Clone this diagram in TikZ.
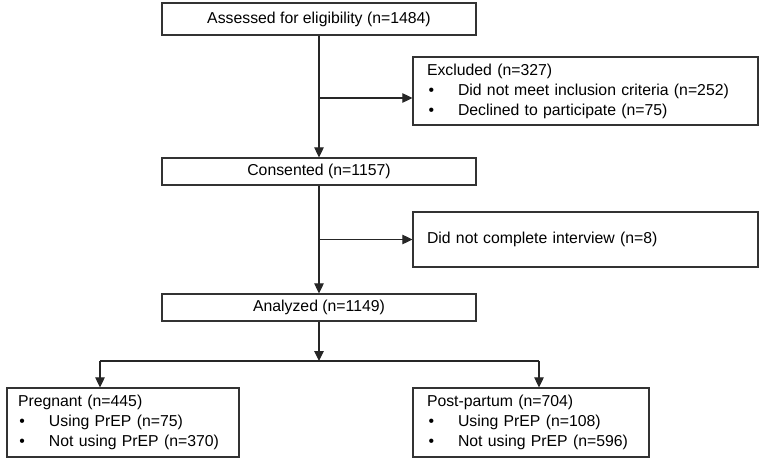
\documentclass[tikz,border=0pt]{standalone}
\usepackage{fontspec}
\setmainfont{Liberation Sans}
\usetikzlibrary{arrows.meta}
\newcommand{\bul}{\makebox[31pt][l]{\hspace{1.5pt}\textbullet}}

\begin{document}
\begin{tikzpicture}[x=1pt,y=-1pt,
    box/.style={draw=black!80, line width=1.2pt, fill=white, inner sep=0pt,
                font=\fontsize{15.8}{20}\selectfont},
    midbox/.style={box, minimum width=314pt},
    sidebox/.style={box, minimum width=345pt, text width=317pt, align=left},
    arr/.style={-{Triangle[length=10pt,width=9.5pt]}, draw=black!85, line width=1.1pt}]
                \useasboundingbox (0,0) rectangle (760,460);

                \node[midbox, minimum height=32pt] (assessed) at (319,19) {Assessed for eligibility (n=1484)};
                \node[midbox, minimum height=27pt] (consented) at (319,171.5) {Consented (n=1157)};
                \node[midbox, minimum height=27pt] (analyzed) at (319,307.5) {Analyzed (n=1149)};

                \node[sidebox, minimum height=68pt] (excluded) at (585.5,91) {Excluded (n=327)\\
                    \bul Did not meet inclusion criteria (n=252)\\
                    \bul Declined to participate (n=75)};
                \node[sidebox, minimum height=55pt] (notdone) at (585.5,239.5) {Did not complete interview (n=8)};

                \node[box, minimum width=232pt, minimum height=69pt, text width=210pt, align=left] (pregnant) at (123,422.5) {Pregnant (n=445)\\
                    \bul Using PrEP (n=75)\\
                    \bul Not using PrEP (n=370)};
                \node[box, minimum width=236pt, minimum height=69pt, text width=208pt, align=left] (postpartum) at (531,422.5) {Post-partum (n=704)\\
                    \bul Using PrEP (n=108)\\
                    \bul Not using PrEP (n=596)};

                \coordinate (excl) at (319,98);
                \coordinate (split) at (319,361);
                \coordinate (lft) at (100,361);
                \coordinate (rgt) at (539,361);

                \draw[arr] (assessed) -- (consented);
                \draw[arr] (excl) -- (excl -| excluded.west);
                \draw[arr] (consented) -- (analyzed);
                \draw[arr] (consented |- notdone.west) -- (notdone.west);
                \draw[arr] (analyzed) -- (split);
                \draw[arr] (lft) -- (lft |- pregnant.north);
                \draw[arr] (rgt) -- (rgt |- postpartum.north);
                \draw[draw=black!85, line width=1.1pt] (lft) -- (rgt);
\end{tikzpicture}
\end{document}
